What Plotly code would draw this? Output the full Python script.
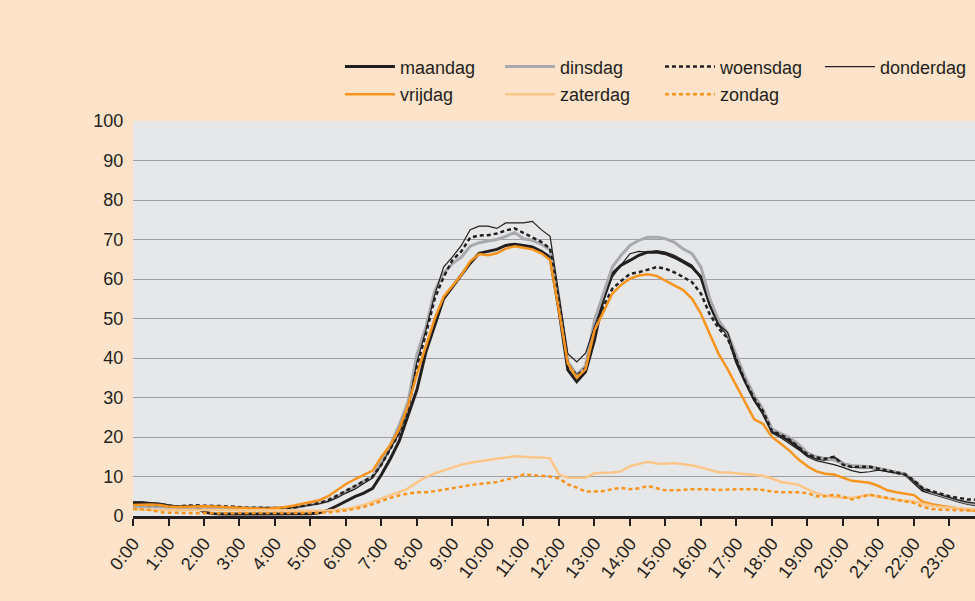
import plotly.graph_objects as go

# time grid: quarter hours 0:00 .. 23:45
hours = [i * 0.25 for i in range(96)]
tick_hours = list(range(24))
tick_labels = [f"{h}:00" for h in tick_hours]
y_ticks = list(range(0, 101, 10))

maandag = [3.3, 3.3, 3.1, 3.0, 2.6, 2.3, 2.3, 2.4, 1.0, 0.6, 0.5, 0.5, 0.5, 0.5, 0.5, 0.5,
           0.5, 0.5, 0.5, 0.5, 0.6, 0.8, 1.5, 2.6, 3.8, 4.9, 5.8, 7.0, 10.5, 14.5, 19.0, 25.5,
           32.0, 41.5, 48.5, 55.0, 58.0, 61.0, 64.0, 66.5, 67.0, 67.5, 68.5, 68.8, 68.5, 68.1, 67.0, 65.5,
           52.0, 37.0, 34.0, 36.5, 44.5, 55.0, 61.3, 63.5, 64.7, 66.0, 66.8, 66.8, 66.4, 65.5, 64.3, 63.0,
           60.5, 53.5, 48.5, 46.0, 39.0, 34.0, 29.5, 26.0, 21.5, 20.4, 19.0, 17.2, 15.5, 14.6, 14.3, 14.7,
           13.2, 12.6, 12.4, 12.4, 11.9, 11.5, 11.0, 10.6, 8.5, 6.5, 5.8, 5.2, 4.5, 3.8, 3.2, 2.8]
dinsdag = [2.5, 2.4, 2.3, 2.3, 2.2, 2.3, 2.3, 2.3, 2.2, 2.1, 2.0, 2.0, 2.0, 2.0, 1.9, 1.9,
           1.9, 1.9, 2.0, 2.4, 2.8, 3.2, 3.8, 4.8, 6.2, 7.3, 8.8, 10.0, 14.0, 18.0, 23.0, 29.0,
           41.0, 47.8, 57.0, 61.5, 63.9, 65.5, 68.3, 69.2, 69.6, 70.0, 70.8, 71.8, 70.2, 69.8, 68.8, 67.4,
           55.0, 39.0, 35.8, 38.0, 49.5, 56.0, 63.0, 66.0, 68.5, 69.8, 70.6, 70.6, 70.2, 69.3, 67.6, 66.4,
           63.0, 55.0, 49.5, 46.3, 40.5, 35.0, 30.5, 27.0, 22.0, 21.0, 19.8, 18.2, 16.0, 15.0, 14.5, 14.2,
           13.2, 12.8, 12.6, 12.5, 12.0, 11.6, 11.0, 10.6, 9.0, 7.0, 6.0, 5.4, 4.7, 4.0, 3.4, 3.0]
woensdag = [2.8, 2.9, 2.8, 2.8, 2.5, 2.4, 2.6, 2.7, 2.6, 2.6, 2.5, 2.4, 2.2, 2.1, 2.1, 2.0,
            2.0, 2.0, 2.1, 2.5, 2.9, 3.3, 4.0, 5.2, 6.4, 7.5, 8.6, 10.0, 13.0, 17.0, 21.0, 27.0,
            38.0, 46.0, 55.0, 60.5, 64.8, 67.0, 70.5, 71.0, 71.1, 71.5, 72.3, 72.8, 71.7, 70.6, 69.4, 67.7,
            54.0, 38.5, 35.5, 37.5, 46.0, 53.0, 57.5, 59.5, 61.3, 61.7, 62.3, 63.0, 62.6, 61.7, 60.5, 59.2,
            56.3, 51.0, 47.5, 45.0, 39.5, 34.0, 29.8, 26.5, 21.5, 20.6, 19.3, 17.5, 15.6, 14.8, 14.5, 15.0,
            13.0, 12.4, 12.5, 12.5, 12.0, 11.5, 11.0, 10.5, 9.0, 7.0, 6.3, 5.6, 5.0, 4.6, 4.2, 4.1]
donderdag = [3.6, 3.6, 3.4, 3.2, 2.8, 2.5, 2.6, 2.6, 2.5, 2.5, 2.4, 2.3, 2.1, 2.1, 2.0, 2.0,
             2.0, 2.0, 2.1, 2.4, 2.8, 3.1, 3.7, 4.6, 5.8, 6.8, 8.2, 9.6, 13.0, 17.0, 21.0, 27.5,
             39.0, 47.0, 56.0, 63.0, 65.6, 68.5, 72.5, 73.4, 73.4, 72.8, 74.2, 74.2, 74.2, 74.6, 72.5, 70.8,
             56.0, 41.1, 39.0, 41.2, 48.0, 54.0, 60.5, 63.5, 66.4, 67.0, 66.8, 67.2, 66.8, 66.0, 64.8, 63.5,
             60.0, 53.5, 48.5, 46.5, 39.5, 34.0, 29.5, 26.0, 21.0, 19.8, 18.3, 16.8, 15.0, 14.0, 13.5, 13.0,
             12.3, 11.5, 11.0, 11.2, 11.6, 11.2, 10.8, 10.5, 8.8, 6.8, 6.0, 5.3, 4.6, 4.0, 3.5, 3.2]
vrijdag = [2.8, 2.9, 2.9, 2.8, 2.4, 2.3, 2.4, 2.5, 2.5, 2.4, 2.3, 2.2, 2.1, 2.0, 2.0, 1.8,
           2.0, 2.2, 2.6, 3.1, 3.5, 4.0, 5.0, 6.6, 8.1, 9.3, 10.5, 11.5, 15.0, 18.0, 22.0, 28.0,
           36.0, 42.9, 50.0, 55.5, 58.4, 61.0, 64.5, 66.3, 66.0, 66.5, 67.7, 68.3, 67.9, 67.5, 66.5, 64.8,
           52.0, 38.6, 35.0, 37.2, 47.0, 51.5, 56.3, 58.5, 60.1, 60.9, 61.2, 60.8, 59.6, 58.4, 57.2, 55.0,
           51.2, 46.0, 41.0, 37.2, 33.0, 28.5, 24.5, 23.3, 20.0, 18.3, 16.5, 14.3, 12.6, 11.3, 10.7, 10.5,
           9.6, 8.9, 8.7, 8.4, 7.6, 6.5, 6.0, 5.7, 5.3, 3.6, 3.0, 2.6, 2.3, 2.0, 1.6, 1.3]
zaterdag = [1.8, 1.6, 1.5, 1.5, 1.5, 1.5, 1.5, 1.5, 1.4, 1.4, 1.4, 1.4, 1.4, 1.4, 1.4, 1.4,
            1.4, 1.4, 1.4, 1.3, 1.3, 1.3, 1.4, 1.6, 1.8, 2.2, 2.8, 3.6, 4.5, 5.3, 6.0, 7.0,
            8.5, 9.8, 10.8, 11.6, 12.3, 13.0, 13.5, 13.9, 14.2, 14.5, 14.8, 15.1, 15.0, 14.8, 14.8, 14.6,
            10.5, 9.7, 9.7, 9.7, 10.8, 10.9, 11.0, 11.3, 12.6, 13.2, 13.7, 13.3, 13.2, 13.4, 13.1, 12.8,
            12.3, 11.6, 11.1, 11.0, 10.8, 10.6, 10.4, 10.2, 9.5, 8.6, 8.3, 7.9, 6.8, 5.8, 5.2, 4.8,
            4.6, 4.6, 5.0, 5.4, 4.8, 4.4, 4.1, 3.9, 3.7, 3.1, 2.6, 2.3, 2.1, 1.9, 1.7, 1.6]
zondag = [1.8, 1.7, 1.5, 1.0, 0.8, 0.8, 0.7, 0.7, 0.7, 0.7, 0.7, 0.7, 0.7, 0.7, 0.7, 0.7,
          0.7, 0.7, 0.7, 0.7, 0.7, 0.8, 0.9, 1.1, 1.4, 1.8, 2.3, 3.0, 3.9, 4.6, 5.2, 5.7,
          6.0, 6.0, 6.3, 6.7, 7.1, 7.5, 7.8, 8.1, 8.3, 8.6, 9.2, 9.7, 10.5, 10.3, 10.1, 10.0,
          9.5, 8.0, 7.2, 6.2, 6.2, 6.3, 6.8, 7.1, 6.8, 7.0, 7.6, 7.0, 6.5, 6.5, 6.7, 6.8,
          6.8, 6.7, 6.6, 6.7, 6.8, 6.8, 6.8, 6.6, 6.2, 6.0, 6.0, 6.0, 5.8, 5.0, 5.0, 5.4,
          4.9, 4.2, 4.8, 5.4, 5.0, 4.6, 4.2, 3.8, 3.3, 2.3, 1.8, 1.6, 1.5, 1.4, 1.4, 1.4]

series = [
    ("maandag", maandag, dict(color="#231F20", width=3), "legend"),
    ("dinsdag", dinsdag, dict(color="#A7A9AC", width=3), "legend"),
    ("woensdag", woensdag, dict(color="#231F20", width=2.5, dash="4px,3px"), "legend"),
    ("donderdag", donderdag, dict(color="#231F20", width=1.2), "legend"),
    ("vrijdag", vrijdag, dict(color="#F7941D", width=2.5), "legend2"),
    ("zaterdag", zaterdag, dict(color="#FDC689", width=2.5), "legend2"),
    ("zondag", zondag, dict(color="#F7941D", width=2.5, dash="4px,3px"), "legend2"),
]

FONT = "Liberation Sans, Arial, sans-serif"

fig = go.Figure()
for name, vals, line, lg in series:
    fig.add_trace(go.Scatter(x=hours, y=vals, mode="lines", name=name, line=line,
                             legend=lg, hoverinfo="skip"))

legend_common = dict(orientation="h", xanchor="left", yanchor="middle",
                     bgcolor="rgba(0,0,0,0)", borderwidth=0,
                     font=dict(family=FONT, size=18, color="#231F20"),
                     itemwidth=50, entrywidth=95, entrywidthmode="pixels",
                     traceorder="normal", itemclick=False, itemdoubleclick=False)

fig.update_layout(
    width=975, height=601,
    margin=dict(l=133, r=0, t=121, b=85, pad=0, autoexpand=False),
    paper_bgcolor="#FDE3C9",
    plot_bgcolor="#E6E7E8",
    font=dict(family=FONT, size=18, color="#231F20"),
    showlegend=True,
    legend=dict(x=0.2458, y=1.137, **legend_common),
    legend2=dict(x=0.2458, y=1.067, **legend_common),
    xaxis=dict(range=[0, 23.72], tickmode="array", tickvals=tick_hours, ticktext=tick_labels,
               tickangle=-52, showgrid=False, zeroline=False,
               showline=True, linecolor="#231F20", linewidth=2.5,
               ticks="outside", ticklen=7, tickwidth=1.5, tickcolor="#231F20",
               tickfont=dict(family=FONT, size=18, color="#231F20")),
    yaxis=dict(range=[0, 100], tickmode="array", tickvals=y_ticks,
               showgrid=True, gridcolor="#9D9FA2", gridwidth=1.3, zeroline=False,
               showline=False, ticks="outside", ticklen=5, tickcolor="rgba(0,0,0,0)",
               tickfont=dict(family=FONT, size=18, color="#231F20")),
)

fig.write_html("out.html", config={"displayModeBar": False},
               post_script="document.body.style.margin='0';document.body.style.overflow='hidden';")
